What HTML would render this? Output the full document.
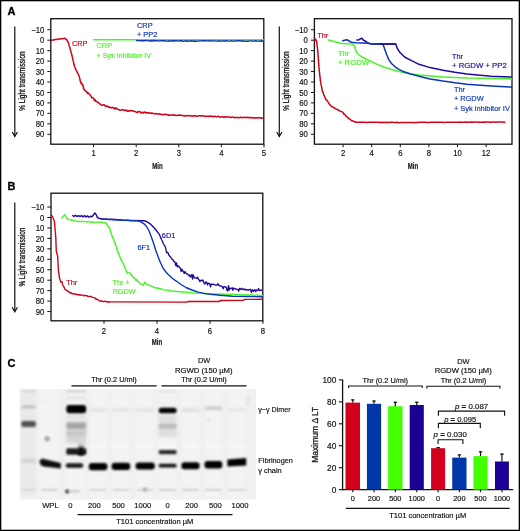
<!DOCTYPE html><html><head><meta charset="utf-8"><style>html,body{margin:0;padding:0;background:#fff;}svg{display:block;will-change:transform;}</style></head><body><svg width="520" height="531" viewBox="0 0 520 531" font-family='"Liberation Sans", sans-serif'>
<rect x="0" y="0" width="520" height="531" fill="#fff"/>
<defs><filter id="b1" x="-50%" y="-50%" width="200%" height="200%"><feGaussianBlur stdDeviation="0.8"/></filter><filter id="b2" x="-50%" y="-50%" width="200%" height="200%"><feGaussianBlur stdDeviation="1.4"/></filter><filter id="b3" x="-50%" y="-50%" width="200%" height="200%"><feGaussianBlur stdDeviation="2.5"/></filter></defs>
<text x="7.4" y="15.3" font-size="11" fill="#000" stroke="#000" stroke-width="0.3" font-weight="bold">A</text>
<text x="7.6" y="189.5" font-size="11" fill="#000" stroke="#000" stroke-width="0.3" font-weight="bold">B</text>
<text x="7.4" y="366.5" font-size="11" fill="#000" stroke="#000" stroke-width="0.3" font-weight="bold">C</text>
<rect x="50.8" y="18.7" width="213.0" height="125.49999999999999" fill="none" stroke="#111" stroke-width="1.3"/>
<line x1="47.3" y1="29.75" x2="50.8" y2="29.75" stroke="#111" stroke-width="1"/>
<text transform="translate(44.3,32.85) scale(0.9,1)" x="0" y="0" font-size="8.6" fill="#111" stroke="#111" stroke-width="0.17" text-anchor="end">&#8722;10</text>
<line x1="47.3" y1="40.2" x2="50.8" y2="40.2" stroke="#111" stroke-width="1"/>
<text transform="translate(44.3,43.3) scale(0.9,1)" x="0" y="0" font-size="8.6" fill="#111" stroke="#111" stroke-width="0.17" text-anchor="end">0</text>
<line x1="47.3" y1="50.65" x2="50.8" y2="50.65" stroke="#111" stroke-width="1"/>
<text transform="translate(44.3,53.75) scale(0.9,1)" x="0" y="0" font-size="8.6" fill="#111" stroke="#111" stroke-width="0.17" text-anchor="end">10</text>
<line x1="47.3" y1="61.1" x2="50.8" y2="61.1" stroke="#111" stroke-width="1"/>
<text transform="translate(44.3,64.2) scale(0.9,1)" x="0" y="0" font-size="8.6" fill="#111" stroke="#111" stroke-width="0.17" text-anchor="end">20</text>
<line x1="47.3" y1="71.55" x2="50.8" y2="71.55" stroke="#111" stroke-width="1"/>
<text transform="translate(44.3,74.65) scale(0.9,1)" x="0" y="0" font-size="8.6" fill="#111" stroke="#111" stroke-width="0.17" text-anchor="end">30</text>
<line x1="47.3" y1="82.0" x2="50.8" y2="82.0" stroke="#111" stroke-width="1"/>
<text transform="translate(44.3,85.1) scale(0.9,1)" x="0" y="0" font-size="8.6" fill="#111" stroke="#111" stroke-width="0.17" text-anchor="end">40</text>
<line x1="47.3" y1="92.45" x2="50.8" y2="92.45" stroke="#111" stroke-width="1"/>
<text transform="translate(44.3,95.55) scale(0.9,1)" x="0" y="0" font-size="8.6" fill="#111" stroke="#111" stroke-width="0.17" text-anchor="end">50</text>
<line x1="47.3" y1="102.9" x2="50.8" y2="102.9" stroke="#111" stroke-width="1"/>
<text transform="translate(44.3,106.0) scale(0.9,1)" x="0" y="0" font-size="8.6" fill="#111" stroke="#111" stroke-width="0.17" text-anchor="end">60</text>
<line x1="47.3" y1="113.35" x2="50.8" y2="113.35" stroke="#111" stroke-width="1"/>
<text transform="translate(44.3,116.45) scale(0.9,1)" x="0" y="0" font-size="8.6" fill="#111" stroke="#111" stroke-width="0.17" text-anchor="end">70</text>
<line x1="47.3" y1="123.8" x2="50.8" y2="123.8" stroke="#111" stroke-width="1"/>
<text transform="translate(44.3,126.9) scale(0.9,1)" x="0" y="0" font-size="8.6" fill="#111" stroke="#111" stroke-width="0.17" text-anchor="end">80</text>
<line x1="47.3" y1="134.25" x2="50.8" y2="134.25" stroke="#111" stroke-width="1"/>
<text transform="translate(44.3,137.35) scale(0.9,1)" x="0" y="0" font-size="8.6" fill="#111" stroke="#111" stroke-width="0.17" text-anchor="end">90</text>
<line x1="93.6" y1="144.2" x2="93.6" y2="147.2" stroke="#111" stroke-width="1"/>
<text transform="translate(93.6,156.4) scale(0.9,1)" x="0" y="0" font-size="8.6" fill="#111" stroke="#111" stroke-width="0.17" text-anchor="middle">1</text>
<line x1="136.2" y1="144.2" x2="136.2" y2="147.2" stroke="#111" stroke-width="1"/>
<text transform="translate(136.2,156.4) scale(0.9,1)" x="0" y="0" font-size="8.6" fill="#111" stroke="#111" stroke-width="0.17" text-anchor="middle">2</text>
<line x1="178.8" y1="144.2" x2="178.8" y2="147.2" stroke="#111" stroke-width="1"/>
<text transform="translate(178.8,156.4) scale(0.9,1)" x="0" y="0" font-size="8.6" fill="#111" stroke="#111" stroke-width="0.17" text-anchor="middle">3</text>
<line x1="221.4" y1="144.2" x2="221.4" y2="147.2" stroke="#111" stroke-width="1"/>
<text transform="translate(221.4,156.4) scale(0.9,1)" x="0" y="0" font-size="8.6" fill="#111" stroke="#111" stroke-width="0.17" text-anchor="middle">4</text>
<line x1="264.0" y1="144.2" x2="264.0" y2="147.2" stroke="#111" stroke-width="1"/>
<text transform="translate(264.0,156.4) scale(0.9,1)" x="0" y="0" font-size="8.6" fill="#111" stroke="#111" stroke-width="0.17" text-anchor="middle">5</text>
<text x="157.5" y="168.8" font-size="9" fill="#111" stroke="#111" stroke-width="0.17" text-anchor="middle" font-weight="bold" textLength="10.4" lengthAdjust="spacingAndGlyphs">Min</text>
<line x1="14.8" y1="26.5" x2="14.8" y2="136.0" stroke="#111" stroke-width="1.2"/>
<path d="M12.200000000000001,132.0 L14.8,136.5 L17.400000000000002,132.0" fill="none" stroke="#111" stroke-width="1.2"/>
<text transform="translate(25.3,81.05) rotate(-90)" x="0" y="0" font-size="8.8" fill="#111" stroke="#111" stroke-width="0.3" text-anchor="middle" textLength="59.300000000000004" lengthAdjust="spacingAndGlyphs">% Light transmission</text>
<polyline points="93.70,39.80 263.30,39.80" fill="none" stroke="#4af526" stroke-width="1.5" stroke-linejoin="round" stroke-linecap="round"/>
<polyline points="136.70,40.47 138.25,40.58 139.81,40.64 141.36,40.77 142.91,40.68 144.47,40.82 146.02,40.32 147.57,40.61 149.13,40.93 150.68,40.79 152.23,40.97 153.79,40.53 155.34,40.78 156.89,40.68 158.45,40.89 160.00,40.94 161.52,40.61 163.04,40.73 164.56,40.77 166.08,41.16 167.60,41.07 169.11,40.70 170.63,41.09 172.15,40.70 173.67,40.98 175.19,40.69 176.71,40.62 178.23,41.14 179.75,40.74 181.27,40.75 182.79,41.21 184.31,41.15 185.82,40.80 187.34,41.20 188.86,40.95 190.38,41.04 191.90,40.75 193.42,41.20 194.94,41.05 196.46,41.22 197.98,41.17 199.50,40.82 201.02,40.86 202.54,40.74 204.05,40.73 205.57,40.68 207.09,40.83 208.61,41.01 210.13,40.65 211.65,41.06 213.17,40.85 214.69,40.84 216.21,41.15 217.73,40.94 219.25,40.85 220.76,40.95 222.28,41.08 223.80,40.70 225.32,41.25 226.84,40.68 228.36,41.12 229.88,41.17 231.40,40.68 232.92,41.14 234.44,40.89 235.96,41.02 237.48,40.68 238.99,40.70 240.51,40.79 242.03,41.25 243.55,40.80 245.07,41.14 246.59,41.24 248.11,41.25 249.63,40.89 251.15,40.90 252.67,41.00 254.19,41.16 255.70,40.76 257.22,41.14 258.74,41.17 260.26,41.21 261.78,40.72 263.30,41.27" fill="none" stroke="#0a36b8" stroke-width="1.4" stroke-linejoin="round" stroke-linecap="round"/>
<polyline points="51.50,40.29 52.70,39.99 53.90,40.09 55.10,39.54 56.30,39.62 57.50,39.32 58.75,38.98 60.00,39.10 61.25,38.67 62.50,38.76 63.75,38.39 65.00,38.25 66.15,39.40 67.30,40.60 67.80,41.41 68.30,42.70 68.80,44.18 69.18,45.69 69.56,46.79 69.94,48.00 70.32,49.67 70.70,50.43 71.02,52.17 71.33,53.07 71.65,54.24 71.97,55.47 72.28,56.84 72.60,58.39 72.87,59.22 73.14,60.68 73.41,61.93 73.69,62.98 73.96,64.30 74.23,65.22 74.50,66.44 75.06,67.66 75.62,69.09 76.18,70.08 76.74,71.15 77.30,72.45 77.93,73.61 78.57,74.75 79.20,76.28 79.53,77.64 79.85,78.80 80.17,80.42 80.50,81.82" fill="none" stroke="#d0021b" stroke-width="1.5" stroke-linejoin="round" stroke-linecap="round"/>
<polyline points="80.50,81.36 81.10,83.46 81.70,83.05 82.30,84.90 82.90,84.84 83.15,86.05 83.40,88.20 83.65,87.89 83.90,89.53 84.60,89.93 85.30,90.63 86.00,91.39 86.70,91.61 87.46,93.39 88.22,92.96 88.98,93.95 89.74,94.37 90.50,95.53 91.17,96.42 91.84,97.89 92.51,97.72 93.19,97.97 93.86,98.87 94.53,100.72 95.20,99.90 96.00,101.34 96.80,101.49 97.60,102.49 98.40,102.51 99.20,103.62 100.00,103.85 100.80,104.64 101.75,105.34 102.70,105.13 103.65,104.73 104.60,104.90 105.55,106.61 106.50,106.18 107.44,105.95 108.38,107.39 109.31,107.04 110.25,107.52 111.19,108.00 112.12,107.28 113.06,107.63 114.00,108.70 114.94,107.75 115.88,109.00 116.81,108.17 117.75,109.35 118.69,109.61 119.62,110.24 120.56,110.31 121.50,110.01 122.44,109.63 123.38,109.67 124.31,110.38 125.25,110.47 126.19,109.88 127.12,111.32 128.06,110.80 129.00,111.22 129.90,110.57 130.80,110.72 131.70,110.47 132.60,111.12 133.50,111.11 134.40,111.48 135.30,111.50 136.20,112.32 137.10,112.51 138.00,111.46 138.90,111.90 139.80,111.63 140.70,112.52 141.60,113.11 142.50,111.97 143.40,112.96 144.30,112.31 145.20,111.95 146.10,113.24 147.00,112.66 147.90,112.48 148.80,113.00" fill="none" stroke="#d0021b" stroke-width="1.5" stroke-linejoin="round" stroke-linecap="round"/>
<polyline points="148.80,113.07 149.84,113.09 150.87,112.97 151.91,113.73 152.94,113.06 153.98,113.60 155.01,114.06 156.05,113.42 157.09,113.95 158.12,114.10 159.16,113.69 160.19,114.09 161.23,114.48 162.26,114.36 163.30,114.70 164.33,114.26 165.36,114.39 166.39,114.34 167.41,114.76 168.44,115.20 169.47,114.97 170.50,115.20 171.53,114.91 172.56,115.30 173.59,114.78 174.61,115.02 175.64,115.43 176.67,115.54 177.70,115.33 178.73,115.07 179.76,115.28 180.79,115.27 181.81,115.37 182.84,115.89 183.87,115.39 184.90,116.05 185.93,116.08 186.96,115.39 187.99,115.72 189.01,115.86 190.04,115.49 191.07,115.89 192.10,116.37 193.13,115.67 194.16,116.12 195.19,115.70 196.21,116.13 197.24,116.43 198.27,115.82 199.30,115.66 200.33,115.74 201.36,116.16 202.39,115.71 203.41,115.78 204.44,116.17 205.47,116.56 206.50,116.13 207.54,116.15 208.57,116.41 209.61,115.96 210.64,116.44 211.68,116.12 212.71,116.56 213.75,116.91 214.79,116.14 215.82,116.64 216.86,116.72 217.89,116.36 218.93,116.51 219.96,117.20 221.00,117.25 222.03,116.50 223.06,117.07 224.09,117.33 225.11,116.73 226.14,117.11 227.17,116.65 228.20,116.98 229.23,117.30 230.26,117.27 231.29,117.48 232.31,116.90 233.34,117.18 234.37,117.68 235.40,117.48 236.43,117.38 237.46,117.35 238.49,117.90 239.51,117.55 240.54,117.07 241.57,117.80 242.60,117.40 243.63,117.51 244.66,117.33 245.69,117.56 246.71,117.48 247.74,117.29 248.77,117.80 249.80,117.34 250.84,117.98 251.88,117.32 252.92,118.02 253.95,118.07 254.99,117.81 256.03,118.03 257.07,117.63 258.11,118.10 259.15,117.84 260.18,117.69 261.22,118.37 262.26,117.89 263.30,117.89" fill="none" stroke="#d0021b" stroke-width="1.5" stroke-linejoin="round" stroke-linecap="round"/>
<text x="71.9" y="46.2" font-size="7.4" fill="#d0021b" stroke="#d0021b" stroke-width="0.17">CRP</text>
<text x="96.5" y="48.1" font-size="7.4" fill="#4af526" stroke="#4af526" stroke-width="0.17">CRP</text>
<text x="96.5" y="57.6" font-size="7.4" fill="#4af526" stroke="#4af526" stroke-width="0.17" textLength="54.5" lengthAdjust="spacingAndGlyphs">+ Syk inhibitor IV</text>
<text x="137" y="27.7" font-size="7.4" fill="#0a36b8" stroke="#0a36b8" stroke-width="0.17">CRP</text>
<text x="137" y="37" font-size="7.4" fill="#0a36b8" stroke="#0a36b8" stroke-width="0.17">+ PP2</text>
<rect x="314.4" y="18.7" width="197.60000000000002" height="125.49999999999999" fill="none" stroke="#111" stroke-width="1.3"/>
<line x1="310.90000000000003" y1="29.75" x2="314.4" y2="29.75" stroke="#111" stroke-width="1"/>
<text transform="translate(307.90000000000003,32.85) scale(0.9,1)" x="0" y="0" font-size="8.6" fill="#111" stroke="#111" stroke-width="0.17" text-anchor="end">&#8722;10</text>
<line x1="310.90000000000003" y1="40.2" x2="314.4" y2="40.2" stroke="#111" stroke-width="1"/>
<text transform="translate(307.90000000000003,43.3) scale(0.9,1)" x="0" y="0" font-size="8.6" fill="#111" stroke="#111" stroke-width="0.17" text-anchor="end">0</text>
<line x1="310.90000000000003" y1="50.65" x2="314.4" y2="50.65" stroke="#111" stroke-width="1"/>
<text transform="translate(307.90000000000003,53.75) scale(0.9,1)" x="0" y="0" font-size="8.6" fill="#111" stroke="#111" stroke-width="0.17" text-anchor="end">10</text>
<line x1="310.90000000000003" y1="61.1" x2="314.4" y2="61.1" stroke="#111" stroke-width="1"/>
<text transform="translate(307.90000000000003,64.2) scale(0.9,1)" x="0" y="0" font-size="8.6" fill="#111" stroke="#111" stroke-width="0.17" text-anchor="end">20</text>
<line x1="310.90000000000003" y1="71.55" x2="314.4" y2="71.55" stroke="#111" stroke-width="1"/>
<text transform="translate(307.90000000000003,74.65) scale(0.9,1)" x="0" y="0" font-size="8.6" fill="#111" stroke="#111" stroke-width="0.17" text-anchor="end">30</text>
<line x1="310.90000000000003" y1="82.0" x2="314.4" y2="82.0" stroke="#111" stroke-width="1"/>
<text transform="translate(307.90000000000003,85.1) scale(0.9,1)" x="0" y="0" font-size="8.6" fill="#111" stroke="#111" stroke-width="0.17" text-anchor="end">40</text>
<line x1="310.90000000000003" y1="92.45" x2="314.4" y2="92.45" stroke="#111" stroke-width="1"/>
<text transform="translate(307.90000000000003,95.55) scale(0.9,1)" x="0" y="0" font-size="8.6" fill="#111" stroke="#111" stroke-width="0.17" text-anchor="end">50</text>
<line x1="310.90000000000003" y1="102.9" x2="314.4" y2="102.9" stroke="#111" stroke-width="1"/>
<text transform="translate(307.90000000000003,106.0) scale(0.9,1)" x="0" y="0" font-size="8.6" fill="#111" stroke="#111" stroke-width="0.17" text-anchor="end">60</text>
<line x1="310.90000000000003" y1="113.35" x2="314.4" y2="113.35" stroke="#111" stroke-width="1"/>
<text transform="translate(307.90000000000003,116.45) scale(0.9,1)" x="0" y="0" font-size="8.6" fill="#111" stroke="#111" stroke-width="0.17" text-anchor="end">70</text>
<line x1="310.90000000000003" y1="123.8" x2="314.4" y2="123.8" stroke="#111" stroke-width="1"/>
<text transform="translate(307.90000000000003,126.9) scale(0.9,1)" x="0" y="0" font-size="8.6" fill="#111" stroke="#111" stroke-width="0.17" text-anchor="end">80</text>
<line x1="310.90000000000003" y1="134.25" x2="314.4" y2="134.25" stroke="#111" stroke-width="1"/>
<text transform="translate(307.90000000000003,137.35) scale(0.9,1)" x="0" y="0" font-size="8.6" fill="#111" stroke="#111" stroke-width="0.17" text-anchor="end">90</text>
<line x1="343.1" y1="144.2" x2="343.1" y2="147.2" stroke="#111" stroke-width="1"/>
<text transform="translate(343.1,156.4) scale(0.9,1)" x="0" y="0" font-size="8.6" fill="#111" stroke="#111" stroke-width="0.17" text-anchor="middle">2</text>
<line x1="371.7" y1="144.2" x2="371.7" y2="147.2" stroke="#111" stroke-width="1"/>
<text transform="translate(371.7,156.4) scale(0.9,1)" x="0" y="0" font-size="8.6" fill="#111" stroke="#111" stroke-width="0.17" text-anchor="middle">4</text>
<line x1="400.3" y1="144.2" x2="400.3" y2="147.2" stroke="#111" stroke-width="1"/>
<text transform="translate(400.3,156.4) scale(0.9,1)" x="0" y="0" font-size="8.6" fill="#111" stroke="#111" stroke-width="0.17" text-anchor="middle">6</text>
<line x1="428.9" y1="144.2" x2="428.9" y2="147.2" stroke="#111" stroke-width="1"/>
<text transform="translate(428.9,156.4) scale(0.9,1)" x="0" y="0" font-size="8.6" fill="#111" stroke="#111" stroke-width="0.17" text-anchor="middle">8</text>
<line x1="457.5" y1="144.2" x2="457.5" y2="147.2" stroke="#111" stroke-width="1"/>
<text transform="translate(457.5,156.4) scale(0.9,1)" x="0" y="0" font-size="8.6" fill="#111" stroke="#111" stroke-width="0.17" text-anchor="middle">10</text>
<line x1="486.1" y1="144.2" x2="486.1" y2="147.2" stroke="#111" stroke-width="1"/>
<text transform="translate(486.1,156.4) scale(0.9,1)" x="0" y="0" font-size="8.6" fill="#111" stroke="#111" stroke-width="0.17" text-anchor="middle">12</text>
<text x="413" y="168.8" font-size="9" fill="#111" stroke="#111" stroke-width="0.17" text-anchor="middle" font-weight="bold" textLength="10.4" lengthAdjust="spacingAndGlyphs">Min</text>
<line x1="279.3" y1="26.5" x2="279.3" y2="136.0" stroke="#111" stroke-width="1.2"/>
<path d="M276.7,132.0 L279.3,136.5 L281.90000000000003,132.0" fill="none" stroke="#111" stroke-width="1.2"/>
<text transform="translate(289.40000000000003,81.05) rotate(-90)" x="0" y="0" font-size="8.8" fill="#111" stroke="#111" stroke-width="0.3" text-anchor="middle" textLength="59.300000000000004" lengthAdjust="spacingAndGlyphs">% Light transmission</text>
<polyline points="314.60,40.46 314.90,39.55 315.20,38.88 315.67,39.40 316.13,40.37 316.60,41.38 316.72,42.04 316.84,43.37 316.95,44.50 317.07,45.67 317.19,46.07 317.31,47.29 317.43,48.12 317.55,49.80 317.66,50.72 317.78,51.16 317.90,53.03 317.97,54.02 318.05,54.75 318.12,55.72 318.19,56.32 318.27,57.20 318.34,58.67 318.41,59.25 318.49,60.37 318.56,61.43 318.63,62.24 318.71,63.64 318.78,64.63 318.85,65.99 318.93,66.71 319.00,67.83 319.11,68.71 319.22,69.86 319.32,70.68 319.43,71.53 319.54,73.19 319.65,74.19 319.75,75.06 319.86,75.95 319.97,76.60 320.08,77.53 320.18,78.59 320.29,79.41 320.40,81.04 320.60,81.77 320.80,83.22 321.00,83.86 321.20,85.43 321.40,86.39 321.60,86.68 321.80,87.93 322.00,89.61 322.20,90.27 322.55,91.67 322.90,92.08 323.25,92.73 323.60,94.17 323.95,95.24 324.30,95.72 324.65,96.49 325.00,97.65 325.63,99.15 326.27,99.90 326.90,100.26 327.53,101.31 328.17,102.11 328.80,103.00 329.53,104.53 330.27,104.84 331.00,106.05 331.88,106.50 332.75,106.82 333.62,107.86 334.50,107.87 335.75,108.98 337.00,109.15 338.03,110.06 339.07,110.51 340.10,111.19 342.00,111.62 342.63,112.34 343.27,112.76 343.90,114.15 344.66,114.30 345.42,115.22 346.18,116.40 346.94,116.97 347.70,117.24 348.62,118.74 349.55,118.74 350.47,119.48 351.40,120.65 352.35,120.72 353.30,121.17 354.25,121.44 355.20,121.93" fill="none" stroke="#d0021b" stroke-width="1.5" stroke-linejoin="round" stroke-linecap="round"/>
<polyline points="355.20,122.29 356.84,122.35 358.49,122.35 360.13,122.19 361.78,122.15 363.42,122.26 365.07,122.23 366.71,122.39 368.36,122.36 370.00,122.33 371.50,122.33 373.00,122.37 374.50,122.22 376.00,122.32 377.50,122.25 379.00,122.48 380.50,122.24 382.00,122.48 383.50,122.26 385.00,122.46 386.50,122.36 388.00,122.39 389.50,122.53 391.00,122.30 392.50,122.32 394.00,122.58 395.50,122.47 397.00,122.36 398.50,122.64 400.00,122.63 401.50,122.39 403.00,122.49 404.50,122.42 406.00,122.48 407.50,122.58 409.00,122.45 410.50,122.62 412.00,122.43 413.50,122.48 415.00,122.68 416.50,122.56 418.00,122.58 420.00,122.33 421.54,122.29 423.08,122.27 424.62,122.16 426.15,122.37 427.69,122.44 429.23,122.44 430.77,122.35 432.31,122.26 433.85,122.26 435.38,122.36 436.92,122.35 438.46,122.18 440.00,122.22 441.50,122.25 443.00,122.29 444.50,122.38 446.00,122.28 447.50,122.13 449.00,122.37 450.50,122.24 452.00,122.27 453.50,122.17 455.00,122.23 456.50,122.21 458.00,122.32 459.50,122.12 461.00,122.24 462.50,122.13 464.00,122.28 465.50,122.08 467.00,122.14 468.50,122.16 470.00,122.24 471.52,122.06 473.03,122.18 474.55,122.10 476.07,122.12 477.59,122.17 479.10,122.31 480.62,122.16 482.14,122.30 483.66,122.06 485.17,122.28 486.69,122.11 488.21,122.05 489.73,122.22 491.24,122.26 492.76,121.99 494.28,122.06 495.80,122.21 497.31,122.07 498.83,122.04 500.35,121.97 501.87,121.97 503.38,122.14 504.90,122.25" fill="none" stroke="#d0021b" stroke-width="1.5" stroke-linejoin="round" stroke-linecap="round"/>
<polyline points="328.30,40.00 335.00,41.75 341.25,43.50 352.50,43.90 354.40,45.75 356.25,52.00 358.50,54.50 362.00,57.00 365.80,58.90 371.00,61.50 377.30,64.40 384.00,67.00 390.80,69.20 400.00,71.80 410.00,74.00 419.00,75.10 443.00,77.00 467.00,78.00 511.60,78.70" fill="none" stroke="#4af526" stroke-width="1.5" stroke-linejoin="round" stroke-linecap="round"/>
<polyline points="356.90,40.10 359.00,39.80 360.50,38.70 361.90,38.25 363.00,39.80 365.00,41.00 367.50,42.60 371.25,43.90 395.60,43.90 396.60,46.50 397.40,48.70 400.00,52.50 402.30,54.80 404.60,57.00 410.00,59.80 419.00,64.30 430.00,67.60 443.00,70.30 455.00,72.30 467.00,73.90 491.00,76.30 511.60,77.00" fill="none" stroke="#24089c" stroke-width="1.5" stroke-linejoin="round" stroke-linecap="round"/>
<polyline points="342.75,40.75 344.50,40.30 346.90,39.75 348.75,40.75 351.25,42.25 356.00,42.80 367.50,43.20 371.25,43.90 382.60,43.90 383.60,46.00 385.00,50.00 386.80,55.00 388.80,59.60 391.50,63.50 394.60,66.30 398.00,68.90 402.30,71.20 410.00,73.80 419.00,76.30 430.00,78.90 443.00,81.10 455.00,82.80 467.00,84.20 491.00,85.90 511.60,87.10" fill="none" stroke="#0a36b8" stroke-width="1.5" stroke-linejoin="round" stroke-linecap="round"/>
<polyline points="379.40,43.90 395.60,43.90" fill="none" stroke="#24089c" stroke-width="1.5" stroke-linejoin="round" stroke-linecap="round"/>
<text x="317.2" y="37.6" font-size="7.4" fill="#d0021b" stroke="#d0021b" stroke-width="0.17">Thr</text>
<text x="337.9" y="56" font-size="7.4" fill="#4af526" stroke="#4af526" stroke-width="0.17">Thr</text>
<text x="337.9" y="65.4" font-size="7.4" fill="#4af526" stroke="#4af526" stroke-width="0.17" textLength="31.4" lengthAdjust="spacingAndGlyphs">+ RGDW</text>
<text x="452" y="58.6" font-size="7.4" fill="#24089c" stroke="#24089c" stroke-width="0.17">Thr</text>
<text x="452" y="67.9" font-size="7.4" fill="#24089c" stroke="#24089c" stroke-width="0.17" textLength="54.8" lengthAdjust="spacingAndGlyphs">+ RGDW + PP2</text>
<text x="453.9" y="91.9" font-size="7.4" fill="#0a36b8" stroke="#0a36b8" stroke-width="0.17">Thr</text>
<text x="453.9" y="101.0" font-size="7.4" fill="#0a36b8" stroke="#0a36b8" stroke-width="0.17">+ RGDW</text>
<text x="453.9" y="110.7" font-size="7.4" fill="#0a36b8" stroke="#0a36b8" stroke-width="0.17" textLength="56" lengthAdjust="spacingAndGlyphs">+ Syk inhibitor IV</text>
<rect x="51" y="193.2" width="211.8" height="127.60000000000002" fill="none" stroke="#111" stroke-width="1.3"/>
<line x1="47.3" y1="207.05" x2="51" y2="207.05" stroke="#111" stroke-width="1"/>
<text transform="translate(44.3,210.15) scale(0.9,1)" x="0" y="0" font-size="8.6" fill="#111" stroke="#111" stroke-width="0.17" text-anchor="end">&#8722;10</text>
<line x1="47.3" y1="217.5" x2="51" y2="217.5" stroke="#111" stroke-width="1"/>
<text transform="translate(44.3,220.6) scale(0.9,1)" x="0" y="0" font-size="8.6" fill="#111" stroke="#111" stroke-width="0.17" text-anchor="end">0</text>
<line x1="47.3" y1="227.95" x2="51" y2="227.95" stroke="#111" stroke-width="1"/>
<text transform="translate(44.3,231.05) scale(0.9,1)" x="0" y="0" font-size="8.6" fill="#111" stroke="#111" stroke-width="0.17" text-anchor="end">10</text>
<line x1="47.3" y1="238.4" x2="51" y2="238.4" stroke="#111" stroke-width="1"/>
<text transform="translate(44.3,241.5) scale(0.9,1)" x="0" y="0" font-size="8.6" fill="#111" stroke="#111" stroke-width="0.17" text-anchor="end">20</text>
<line x1="47.3" y1="248.85" x2="51" y2="248.85" stroke="#111" stroke-width="1"/>
<text transform="translate(44.3,251.95) scale(0.9,1)" x="0" y="0" font-size="8.6" fill="#111" stroke="#111" stroke-width="0.17" text-anchor="end">30</text>
<line x1="47.3" y1="259.3" x2="51" y2="259.3" stroke="#111" stroke-width="1"/>
<text transform="translate(44.3,262.4) scale(0.9,1)" x="0" y="0" font-size="8.6" fill="#111" stroke="#111" stroke-width="0.17" text-anchor="end">40</text>
<line x1="47.3" y1="269.75" x2="51" y2="269.75" stroke="#111" stroke-width="1"/>
<text transform="translate(44.3,272.85) scale(0.9,1)" x="0" y="0" font-size="8.6" fill="#111" stroke="#111" stroke-width="0.17" text-anchor="end">50</text>
<line x1="47.3" y1="280.2" x2="51" y2="280.2" stroke="#111" stroke-width="1"/>
<text transform="translate(44.3,283.3) scale(0.9,1)" x="0" y="0" font-size="8.6" fill="#111" stroke="#111" stroke-width="0.17" text-anchor="end">60</text>
<line x1="47.3" y1="290.65" x2="51" y2="290.65" stroke="#111" stroke-width="1"/>
<text transform="translate(44.3,293.75) scale(0.9,1)" x="0" y="0" font-size="8.6" fill="#111" stroke="#111" stroke-width="0.17" text-anchor="end">70</text>
<line x1="47.3" y1="301.1" x2="51" y2="301.1" stroke="#111" stroke-width="1"/>
<text transform="translate(44.3,304.2) scale(0.9,1)" x="0" y="0" font-size="8.6" fill="#111" stroke="#111" stroke-width="0.17" text-anchor="end">80</text>
<line x1="47.3" y1="311.55" x2="51" y2="311.55" stroke="#111" stroke-width="1"/>
<text transform="translate(44.3,314.65) scale(0.9,1)" x="0" y="0" font-size="8.6" fill="#111" stroke="#111" stroke-width="0.17" text-anchor="end">90</text>
<line x1="104.0" y1="320.8" x2="104.0" y2="323.8" stroke="#111" stroke-width="1"/>
<text transform="translate(104.0,333.8) scale(0.9,1)" x="0" y="0" font-size="8.6" fill="#111" stroke="#111" stroke-width="0.17" text-anchor="middle">2</text>
<line x1="157.0" y1="320.8" x2="157.0" y2="323.8" stroke="#111" stroke-width="1"/>
<text transform="translate(157.0,333.8) scale(0.9,1)" x="0" y="0" font-size="8.6" fill="#111" stroke="#111" stroke-width="0.17" text-anchor="middle">4</text>
<line x1="210.0" y1="320.8" x2="210.0" y2="323.8" stroke="#111" stroke-width="1"/>
<text transform="translate(210.0,333.8) scale(0.9,1)" x="0" y="0" font-size="8.6" fill="#111" stroke="#111" stroke-width="0.17" text-anchor="middle">6</text>
<line x1="263.0" y1="320.8" x2="263.0" y2="323.8" stroke="#111" stroke-width="1"/>
<text transform="translate(263.0,333.8) scale(0.9,1)" x="0" y="0" font-size="8.6" fill="#111" stroke="#111" stroke-width="0.17" text-anchor="middle">8</text>
<text x="157" y="345.3" font-size="9" fill="#111" stroke="#111" stroke-width="0.17" text-anchor="middle" font-weight="bold" textLength="10.4" lengthAdjust="spacingAndGlyphs">Min</text>
<line x1="14.8" y1="202.5" x2="14.8" y2="311.3" stroke="#111" stroke-width="1.2"/>
<path d="M12.200000000000001,307.3 L14.8,311.8 L17.400000000000002,307.3" fill="none" stroke="#111" stroke-width="1.2"/>
<text transform="translate(25.1,257.1) rotate(-90)" x="0" y="0" font-size="8.8" fill="#111" stroke="#111" stroke-width="0.3" text-anchor="middle" textLength="59.00000000000003" lengthAdjust="spacingAndGlyphs">% Light transmission</text>
<polyline points="51.50,215.18 52.70,216.87 53.06,217.93 53.42,219.13 53.78,219.60 54.14,220.70 54.50,221.68 54.59,222.79 54.67,224.28 54.76,224.77 54.85,226.16 54.93,226.91 55.02,228.02 55.11,229.17 55.19,230.57 55.28,231.40 55.37,231.90 55.45,233.16 55.54,234.08 55.63,235.77 55.71,236.75 55.80,237.78 55.84,238.86 55.88,239.84 55.92,241.09 55.95,242.01 55.99,242.59 56.03,244.18 56.07,244.92 56.11,246.22 56.15,247.11 56.18,248.05 56.22,249.05 56.26,250.18 56.30,251.13 56.62,252.06 56.95,253.79 57.27,254.87 57.60,256.14 57.65,256.88 57.71,257.76 57.76,258.94 57.81,259.40 57.87,260.89 57.92,261.69 57.97,262.46 58.03,263.49 58.08,264.78 58.13,265.54 58.19,266.74 58.24,267.87 58.29,268.69 58.35,269.46 58.40,270.79 58.56,271.59 58.71,272.62 58.87,273.61 59.03,274.79 59.19,275.56 59.34,277.11 59.50,278.41 59.88,279.03 60.25,280.45 60.62,281.76 61.00,282.09 62.00,281.68 62.33,283.44 62.67,284.64 63.00,285.63 63.63,286.33 64.27,287.69 64.90,289.23 65.77,289.90 66.63,290.47 67.50,290.58 68.37,291.82 69.23,292.04 70.10,292.99 71.07,292.71 72.05,293.70 73.03,293.61 74.00,293.95 74.97,293.73 75.95,294.33 76.93,294.54 77.90,294.78 78.90,294.73 79.90,295.21 80.90,295.02 81.90,295.13 82.90,295.17 83.90,295.79 84.90,295.43 85.90,295.68 86.90,295.70 87.90,296.37 88.90,296.44 89.90,296.59 90.90,296.28 91.92,297.07 92.94,297.40 93.96,297.59 94.98,297.93 96.00,299.25 97.00,299.03 98.00,299.77 99.00,300.32 100.00,301.19 101.00,300.81 102.00,301.25 103.00,301.25 104.00,301.76 105.00,301.10 106.00,301.48 107.00,301.72 108.00,302.23 109.00,301.92" fill="none" stroke="#d0021b" stroke-width="1.4" stroke-linejoin="round" stroke-linecap="round"/>
<polyline points="109.00,301.90 186.50,302.10 188.50,301.50 219.00,301.50 221.00,300.50 243.00,300.40 245.00,299.40 262.30,299.30" fill="none" stroke="#d0021b" stroke-width="1.4" stroke-linejoin="round" stroke-linecap="round"/>
<polyline points="61.80,217.92 62.65,216.99 63.50,215.95 64.90,214.67 65.42,215.57 65.94,216.63 66.46,217.32 66.98,218.46 67.50,219.01 68.54,219.39 69.58,219.62 70.62,219.72 71.66,220.29 72.70,220.24 73.74,220.73 74.78,221.04 75.82,220.83 76.86,221.43 77.90,221.58 78.91,221.55 79.91,221.21 80.92,221.52 81.92,221.66 82.93,221.51 83.94,221.52 84.94,221.62 85.95,221.63 86.95,222.00 87.96,221.78 88.96,221.87 89.97,222.05 90.98,222.28 91.98,221.93 92.99,221.83 93.99,222.44 95.00,222.40 96.02,222.41 97.04,222.29 98.06,222.16 99.08,222.15 100.10,222.28 101.12,222.42 102.14,222.22 103.16,222.64 104.18,222.70 105.20,222.31 106.10,223.51 107.00,223.99" fill="none" stroke="#4af526" stroke-width="1.4" stroke-linejoin="round" stroke-linecap="round"/>
<polyline points="107.00,224.04 107.53,225.25 108.07,226.23 108.60,225.72 108.88,227.35 109.17,228.02 109.45,228.72 109.73,228.50 110.02,229.12 110.30,230.54 110.58,231.97 110.87,231.85 111.15,233.08 111.43,233.52 111.72,235.25 112.00,236.20 112.30,236.00 112.60,237.84 112.90,236.93 113.20,239.05 113.50,239.94 113.80,239.41 114.10,241.18 114.40,241.69 114.70,243.17 115.00,242.61 115.30,243.97 115.56,245.37 115.82,245.70 116.08,245.89 116.35,246.26 116.61,248.58 116.87,248.51 117.13,250.23 117.39,249.47 117.65,251.45 117.92,252.23 118.18,253.20 118.44,252.36 118.70,253.77 119.06,253.98 119.42,256.02 119.78,256.09 120.13,257.96 120.49,257.69 120.85,259.19 121.21,260.15 121.57,259.80 121.92,261.15 122.28,262.66 122.64,262.67 123.00,263.15 123.35,263.76 123.70,265.47 124.05,265.17 124.40,266.69 124.75,267.37 125.10,268.15 125.45,268.16 125.80,269.89 126.15,271.12 126.50,270.82 126.85,271.62 127.20,273.44 128.13,273.11 129.07,272.82 130.00,272.62 130.60,274.66 131.20,274.63 131.80,275.54 132.40,275.89 133.00,277.24 133.64,277.95 134.28,277.74 134.92,277.86 135.56,280.04 136.20,280.44 136.86,279.40 137.52,280.94 138.18,281.71 138.84,281.77 139.50,282.92 140.22,283.95 140.95,283.91 141.68,284.18 142.40,284.45 143.30,285.05" fill="none" stroke="#4af526" stroke-width="1.4" stroke-linejoin="round" stroke-linecap="round"/>
<polyline points="143.30,285.28 143.75,284.36 144.20,282.88 144.90,282.09 145.70,283.24 146.50,284.20 147.55,284.59 148.60,284.97 149.68,285.28 150.76,285.71 151.84,286.45 152.92,286.64 154.00,287.32 155.00,287.66 156.00,287.97 157.00,288.28 158.00,288.04 159.00,288.30 160.00,288.91 161.00,289.05 162.00,289.01 163.00,289.55 164.00,289.90 165.00,290.09 166.00,289.87 167.00,290.14 168.00,290.15 169.07,290.96 170.15,290.55 171.22,291.03 172.30,291.03 173.38,291.19 174.45,291.27 175.53,291.60 176.60,291.57 177.63,291.45 178.66,291.41 179.69,291.76 180.72,292.17 181.75,291.71 182.78,292.18 183.82,292.24 184.85,292.00 185.88,292.13 186.91,292.55 187.94,292.47 188.97,292.54 190.00,292.69 191.04,292.48 192.07,292.96 193.11,292.94 194.14,292.96 195.18,292.88 196.21,293.27 197.25,293.34 198.28,293.20 199.32,292.94 200.35,293.04 201.39,293.10 202.42,293.11 203.46,293.57 204.49,293.55 205.53,293.38 206.56,293.93 207.60,293.79 208.62,293.94 209.64,293.99 210.65,293.92 211.67,293.85 212.69,294.20 213.71,293.63 214.73,294.06 215.75,294.22 216.76,293.97 217.78,294.24 218.80,293.83 219.82,294.02 220.84,293.95 221.85,294.07 222.87,294.32 223.89,293.96 224.91,294.13 225.93,294.51 226.95,294.17 227.96,294.07 228.98,294.71 230.00,294.43 231.01,294.09 232.02,294.50 233.03,294.23 234.04,294.26 235.05,294.69 236.06,294.66 237.07,294.52 238.07,294.61 239.08,294.67 240.09,294.62 241.10,294.40 242.11,294.89 243.12,294.91 244.13,294.70 245.14,294.71 246.15,294.88 247.16,294.81 248.17,294.79 249.18,295.14 250.19,295.18 251.20,294.68 252.21,294.72 253.22,295.17 254.23,295.32 255.23,295.19 256.24,294.91 257.25,294.77 258.26,295.33 259.27,295.43 260.28,295.33 261.29,295.34 262.30,295.53" fill="none" stroke="#4af526" stroke-width="1.4" stroke-linejoin="round" stroke-linecap="round"/>
<polyline points="72.70,215.71 74.00,216.47 75.50,215.21 76.25,215.91 77.00,216.54 78.50,215.70 79.25,215.97 80.00,216.59 81.50,215.46 82.25,216.16 83.00,216.90 84.50,215.56 85.25,216.16 86.00,217.00 87.50,215.89 89.00,217.24 90.50,216.22 92.00,216.74 92.75,215.82 93.50,215.03 94.15,213.83 94.80,212.94 95.40,213.83 96.00,214.45 96.50,215.26 97.00,216.64 97.50,217.65 99.00,218.24 100.10,218.64 101.20,218.68 102.26,219.11 103.32,219.12 104.38,219.16 105.45,219.32 106.51,218.95 107.57,219.20 108.63,219.37 109.69,219.47 110.75,219.29 111.82,219.20 112.88,219.55 113.94,219.30 115.00,219.72 116.00,219.36 117.00,219.69 118.00,219.77 119.00,219.61 120.00,219.89 121.00,219.96 122.00,219.94 123.00,220.32 124.00,220.36 125.00,220.43 126.00,220.11 127.00,220.04 128.00,220.31 129.00,220.21 130.00,220.62" fill="none" stroke="#24089c" stroke-width="1.4" stroke-linejoin="round" stroke-linecap="round"/>
<polyline points="130.00,220.50 144.00,220.70 147.50,222.00 150.20,223.80 154.80,228.50 159.50,234.70 161.50,239.50" fill="none" stroke="#24089c" stroke-width="1.4" stroke-linejoin="round" stroke-linecap="round"/>
<polyline points="161.50,240.13 162.40,240.95 163.30,243.46 164.20,245.08 164.97,246.13 165.73,248.20 166.50,252.55 167.27,252.29 168.03,252.81 168.80,255.02 169.60,256.09 170.40,256.76 171.20,257.79 172.00,259.22 172.75,259.32 173.50,261.11 174.25,261.63 175.00,262.15 175.75,265.67 176.50,262.86 177.25,266.87 178.00,265.76 178.80,266.43 179.60,267.84 180.40,267.84 181.20,271.57 181.96,269.21 182.72,270.85 183.48,271.56 184.24,273.39 185.00,271.63 185.80,273.12 186.60,273.85 187.40,274.03 188.20,274.89 189.00,275.76 189.71,274.95 190.42,276.97 191.13,276.58 191.84,274.34 192.55,279.03 193.25,274.98 193.96,276.85 194.67,277.79 195.38,277.90 196.09,278.19 196.80,278.40 197.54,277.08 198.29,279.02 199.03,279.77 199.77,281.47 200.51,280.53 201.26,280.18 202.00,280.86 202.80,279.90 203.60,281.68 204.40,283.90 205.20,283.82 206.00,281.77 206.80,282.41 207.60,284.94 208.34,283.07 209.08,283.28 209.82,284.02 210.56,286.76 211.30,284.29 212.04,284.27 212.78,284.09 213.52,284.28 214.26,284.56 215.00,284.89 215.75,285.14 216.49,285.00 217.24,284.94 217.98,283.71 218.73,285.32 219.47,285.51 220.22,286.13 220.96,286.04 221.71,286.20 222.45,286.92 223.20,288.83 223.96,286.53 224.71,286.57 225.47,287.12 226.22,287.10 226.98,290.27 227.73,290.94 228.49,285.67 229.24,290.05 230.00,288.10 230.72,288.53 231.45,288.29 232.18,287.74 232.90,290.20 233.62,288.16 234.35,288.55 235.07,288.49 235.80,288.88 236.52,289.35 237.25,289.37 237.97,289.59 238.70,291.23 239.41,288.42 240.11,289.44 240.82,289.24 241.52,288.26 242.23,289.21 242.94,289.50 243.64,289.08 244.35,289.74 245.06,289.10 245.76,289.73 246.47,289.74 247.18,289.65 247.88,290.40 248.59,290.10 249.29,289.33 250.00,289.85 250.71,289.42 251.41,292.67 252.12,290.40 252.82,289.82 253.53,291.43 254.24,290.23 254.94,289.72 255.65,291.51 256.35,290.05 257.06,290.70 257.76,290.43 258.47,288.43 259.18,290.16 259.88,290.56 260.59,290.24 261.29,289.90 262.00,290.70" fill="none" stroke="#24089c" stroke-width="1.35" stroke-linejoin="round"/>
<polyline points="101.20,219.00 130.00,220.60 137.80,220.70 141.00,221.80 144.00,223.80 146.50,226.50 148.60,230.00 151.00,236.00 153.30,242.50 155.50,249.50 158.00,256.40 160.30,262.30 162.60,267.30 165.50,271.50 168.80,275.10 172.50,278.50 176.60,281.30 181.00,284.50 185.90,287.50 192.00,290.00 198.30,292.10 204.00,293.40 210.70,294.30 220.00,295.30 232.50,296.20 262.30,296.80" fill="none" stroke="#0a36b8" stroke-width="1.4" stroke-linejoin="round" stroke-linecap="round"/>
<text x="66.2" y="284.5" font-size="7.4" fill="#d0021b" stroke="#d0021b" stroke-width="0.17">Thr</text>
<text x="112.4" y="284.5" font-size="7.4" fill="#4af526" stroke="#4af526" stroke-width="0.17">Thr +</text>
<text x="112.4" y="294.1" font-size="7.4" fill="#4af526" stroke="#4af526" stroke-width="0.17">RGDW</text>
<text x="161.8" y="237.5" font-size="7.4" fill="#24089c" stroke="#24089c" stroke-width="0.17">6D1</text>
<text x="137.5" y="250.2" font-size="7.4" fill="#0a36b8" stroke="#0a36b8" stroke-width="0.17">6F1</text>
<rect x="19.7" y="389.2" width="236.3" height="110.30000000000001" fill="#f0f0f0"/>
<clipPath id="gclip"><rect x="19.7" y="389.2" width="236.3" height="110.30000000000001"/></clipPath>
<g clip-path="url(#gclip)">
<rect x="39.7" y="389.0" width="21.0" height="110" rx="0" fill="#f3f3f3" filter="url(#b2)" opacity="1"/>
<rect x="66.4" y="389.0" width="19.299999999999997" height="110" rx="0" fill="#f3f3f3" filter="url(#b2)" opacity="1"/>
<rect x="89.3" y="389.0" width="17.60000000000001" height="110" rx="0" fill="#f3f3f3" filter="url(#b2)" opacity="1"/>
<rect x="112.1" y="389.0" width="17.599999999999994" height="110" rx="0" fill="#f3f3f3" filter="url(#b2)" opacity="1"/>
<rect x="136.1" y="389.0" width="18.200000000000017" height="110" rx="0" fill="#f3f3f3" filter="url(#b2)" opacity="1"/>
<rect x="159.2" y="389.0" width="16.900000000000006" height="110" rx="0" fill="#f3f3f3" filter="url(#b2)" opacity="1"/>
<rect x="181.9" y="389.0" width="17.5" height="110" rx="0" fill="#f3f3f3" filter="url(#b2)" opacity="1"/>
<rect x="205.0" y="389.0" width="16.80000000000001" height="110" rx="0" fill="#f3f3f3" filter="url(#b2)" opacity="1"/>
<rect x="227.9" y="389.0" width="17.799999999999983" height="110" rx="0" fill="#f3f3f3" filter="url(#b2)" opacity="1"/>
<rect x="21.5" y="385.0" width="14.299999999999997" height="110" rx="0" fill="#eaeaea" filter="url(#b2)" opacity="1"/>
<rect x="89.8" y="444.25" width="16.60000000000001" height="2.5" rx="1.25" fill="#fafafa" filter="url(#b1)" opacity="1"/>
<rect x="112.6" y="444.25" width="16.599999999999994" height="2.5" rx="1.25" fill="#fafafa" filter="url(#b1)" opacity="1"/>
<rect x="136.6" y="444.25" width="17.200000000000017" height="2.5" rx="1.25" fill="#fafafa" filter="url(#b1)" opacity="1"/>
<rect x="159.7" y="444.25" width="15.900000000000006" height="2.5" rx="1.25" fill="#fafafa" filter="url(#b1)" opacity="1"/>
<rect x="182.4" y="444.25" width="16.5" height="2.5" rx="1.25" fill="#fafafa" filter="url(#b1)" opacity="1"/>
<rect x="205.5" y="444.25" width="15.800000000000011" height="2.5" rx="1.25" fill="#fafafa" filter="url(#b1)" opacity="1"/>
<rect x="228.4" y="444.25" width="16.799999999999983" height="2.5" rx="1.25" fill="#fafafa" filter="url(#b1)" opacity="1"/>
<rect x="21.5" y="390.4" width="14.299999999999997" height="2.2" rx="1.1" fill="#d4d4d4" filter="url(#b1)" opacity="1"/>
<rect x="21.5" y="396.1" width="14.299999999999997" height="1.8" rx="0.9" fill="#e6e6e6" filter="url(#b1)" opacity="1"/>
<rect x="21.5" y="405.2" width="14.299999999999997" height="3.2" rx="1.5" fill="#c2c2c2" filter="url(#b1)" opacity="1"/>
<rect x="21.5" y="415.4" width="14.299999999999997" height="2" rx="1.0" fill="#e4e4e4" filter="url(#b1)" opacity="1"/>
<rect x="21.5" y="420.75" width="14.299999999999997" height="6.5" rx="1.5" fill="#7a7a7a" filter="url(#b1)" opacity="1"/>
<rect x="22" y="422.25" width="13.299999999999997" height="3.5" rx="1.5" fill="#4a4a4a" filter="url(#b1)" opacity="1"/>
<rect x="21.5" y="458.8" width="14.299999999999997" height="4" rx="1.5" fill="#d0d0d0" filter="url(#b2)" opacity="1"/>
<rect x="21.5" y="488.8" width="14.299999999999997" height="2" rx="1.0" fill="#d6d6d6" filter="url(#b1)" opacity="1"/>
<circle cx="47.1" cy="438.7" r="4" fill="#f8f8f8" filter="url(#b1)"/>
<circle cx="47.1" cy="438.7" r="2.8" fill="#a8a8a8" filter="url(#b1)"/>
<circle cx="43.2" cy="400.6" r="0.8" fill="#c8c8c8" filter="url(#b1)"/>
<path d="M39.6,461.6 Q40,458.6 42.8,458.7 L60.6,462.9 Q61.2,465.7 60.6,468.5 L44,466.6 Q40,466 39.6,461.6 Z" fill="#080808" filter="url(#b1)"/>
<rect x="41" y="488.7" width="17" height="2.2" rx="1.1" fill="#d2d2d2" filter="url(#b1)" opacity="1"/>
<rect x="66.1" y="390.2" width="20.10000000000001" height="2.2" rx="1.1" fill="#d0d0d0" filter="url(#b1)" opacity="1"/>
<rect x="66.1" y="396.0" width="20.10000000000001" height="4" rx="1.5" fill="#e6e6e6" filter="url(#b1)" opacity="1"/>
<rect x="66.5" y="421.5" width="19.5" height="22" rx="0" fill="#d6d6d6" filter="url(#b2)" opacity="1"/>
<rect x="66.5" y="415.0" width="19.5" height="5" rx="0" fill="#e2e2e2" filter="url(#b2)" opacity="1"/>
<rect x="66.5" y="422.8" width="19.5" height="6" rx="1.5" fill="#a2a2a2" filter="url(#b2)" opacity="1"/>
<rect x="66.5" y="431.0" width="19.5" height="5" rx="1.5" fill="#c6c6c6" filter="url(#b2)" opacity="1"/>
<rect x="66.3" y="405.0" width="19.900000000000006" height="8.2" rx="3" fill="#040404" filter="url(#b1)" opacity="1"/>
<rect x="66.3" y="448.35" width="19.900000000000006" height="6.5" rx="1.5" fill="#1a1a1a" filter="url(#b1)" opacity="1"/>
<ellipse cx="81" cy="447.5" rx="3.8" ry="4.5" fill="#bcbcbc" filter="url(#b1)"/>
<ellipse cx="81" cy="451.3" rx="4" ry="4.4" fill="#0c0c0c" filter="url(#b1)"/>
<rect x="65.8" y="463.2" width="17.400000000000006" height="4.6" rx="2" fill="#121212" filter="url(#b1)" opacity="1"/>
<circle cx="67.4" cy="491.4" r="1.9" fill="#000" filter="url(#b1)"/>
<rect x="67" y="490.29999999999995" width="13" height="2.2" rx="1.1" fill="#cacaca" filter="url(#b1)" opacity="1"/>
<rect x="88.8" y="463.0" width="18.60000000000001" height="7.2" rx="3" fill="#060606" filter="url(#b1)" opacity="1"/>
<rect x="88.8" y="408.25" width="18.60000000000001" height="3.5" rx="1.5" fill="#e3e3e3" filter="url(#b2)" opacity="1"/>
<rect x="89.8" y="488.7" width="16.60000000000001" height="2.2" rx="1.1" fill="#d6d6d6" filter="url(#b1)" opacity="1"/>
<rect x="111.6" y="462.7" width="18.599999999999994" height="7.2" rx="3" fill="#060606" filter="url(#b1)" opacity="1"/>
<rect x="111.6" y="408.25" width="18.599999999999994" height="3.5" rx="1.5" fill="#e3e3e3" filter="url(#b2)" opacity="1"/>
<rect x="112.6" y="488.7" width="16.599999999999994" height="2.2" rx="1.1" fill="#d6d6d6" filter="url(#b1)" opacity="1"/>
<rect x="135.6" y="462.4" width="19.200000000000017" height="7.2" rx="3" fill="#060606" filter="url(#b1)" opacity="1"/>
<rect x="135.6" y="408.25" width="19.200000000000017" height="3.5" rx="1.5" fill="#e3e3e3" filter="url(#b2)" opacity="1"/>
<rect x="136.6" y="488.7" width="17.200000000000017" height="2.2" rx="1.1" fill="#d6d6d6" filter="url(#b1)" opacity="1"/>
<circle cx="145" cy="489.5" r="2.3" fill="#b4b4b4" filter="url(#b1)"/>
<rect x="158.7" y="390.2" width="17.900000000000006" height="2.2" rx="1.1" fill="#e2e2e2" filter="url(#b1)" opacity="1"/>
<rect x="158.7" y="415.0" width="17.900000000000006" height="22" rx="0" fill="#dedede" filter="url(#b2)" opacity="1"/>
<rect x="158.7" y="423.7" width="17.900000000000006" height="5" rx="1.5" fill="#bdbdbd" filter="url(#b1)" opacity="1"/>
<rect x="158.7" y="407.75" width="17.900000000000006" height="5.5" rx="2.5" fill="#050505" filter="url(#b1)" opacity="1"/>
<rect x="158.7" y="450.0" width="17.900000000000006" height="4.2" rx="1.5" fill="#2c2c2c" filter="url(#b1)" opacity="1"/>
<rect x="158.7" y="463.8" width="17.900000000000006" height="3.8" rx="1.5" fill="#161616" filter="url(#b1)" opacity="1"/>
<rect x="159" y="488.7" width="17" height="2.2" rx="1.1" fill="#d2d2d2" filter="url(#b1)" opacity="1"/>
<rect x="181.4" y="462.3" width="18.19999999999999" height="7.0" rx="3" fill="#060606" filter="url(#b1)" opacity="1"/>
<rect x="181.4" y="408.25" width="18.5" height="3.5" rx="1.5" fill="#dedede" filter="url(#b2)" opacity="1"/>
<rect x="182" y="488.7" width="17" height="2.2" rx="1.1" fill="#d4d4d4" filter="url(#b1)" opacity="1"/>
<rect x="204.5" y="461.1" width="17.80000000000001" height="7.4" rx="3" fill="#060606" filter="url(#b1)" opacity="1"/>
<rect x="204.5" y="406.2" width="17.80000000000001" height="4" rx="1.5" fill="#d0d0d0" filter="url(#b1)" opacity="1"/>
<circle cx="208.7" cy="420" r="1.1" fill="#c4c4c4" filter="url(#b1)"/>
<rect x="205" y="488.7" width="16.5" height="2.2" rx="1.1" fill="#d4d4d4" filter="url(#b1)" opacity="1"/>
<path d="M227.4,459.6 L246.2,458.0 L246.2,465.6 L227.4,466.6 Z" fill="#060606" filter="url(#b1)"/>
<rect x="227.4" y="408.25" width="18.799999999999983" height="3.5" rx="1.5" fill="#e5e5e5" filter="url(#b2)" opacity="1"/>
<rect x="228" y="488.7" width="17.5" height="2.2" rx="1.1" fill="#d6d6d6" filter="url(#b1)" opacity="1"/>
<circle cx="248.2" cy="399.3" r="1.2" fill="#d0d0d0" filter="url(#b1)"/>
<circle cx="248.2" cy="403.6" r="1.2" fill="#d0d0d0" filter="url(#b1)"/>
</g>
<line x1="71.4" y1="385.8" x2="156.7" y2="385.8" stroke="#111" stroke-width="1.2"/>
<line x1="161.5" y1="385.8" x2="246.5" y2="385.8" stroke="#111" stroke-width="1.2"/>
<text x="114" y="382.3" font-size="7.4" fill="#111" stroke="#111" stroke-width="0.17" text-anchor="middle" textLength="45.7" lengthAdjust="spacingAndGlyphs">Thr (0.2 U/ml)</text>
<text x="204.2" y="363.2" font-size="7.4" fill="#111" stroke="#111" stroke-width="0.17" text-anchor="middle">DW</text>
<text x="203.8" y="373" font-size="7.4" fill="#111" stroke="#111" stroke-width="0.17" text-anchor="middle" textLength="57.7" lengthAdjust="spacingAndGlyphs">RGWD (150 µM)</text>
<text x="204" y="382.3" font-size="7.4" fill="#111" stroke="#111" stroke-width="0.17" text-anchor="middle" textLength="45.7" lengthAdjust="spacingAndGlyphs">Thr (0.2 U/ml)</text>
<text x="258.3" y="412.4" font-size="7.4" fill="#111" stroke="#111" stroke-width="0.17" textLength="32.4" lengthAdjust="spacingAndGlyphs">γ−γ Dimer</text>
<text x="258.3" y="463.3" font-size="7.4" fill="#111" stroke="#111" stroke-width="0.17" textLength="34.6" lengthAdjust="spacingAndGlyphs">Fibrinogen</text>
<text x="258.3" y="472.6" font-size="7.4" fill="#111" stroke="#111" stroke-width="0.17">γ chain</text>
<text x="50.4" y="507.9" font-size="7.6" fill="#111" stroke="#111" stroke-width="0.17" text-anchor="middle">WPL</text>
<text x="70.4" y="507.9" font-size="7.6" fill="#111" stroke="#111" stroke-width="0.17" text-anchor="middle">0</text>
<text x="94.3" y="507.9" font-size="7.6" fill="#111" stroke="#111" stroke-width="0.17" text-anchor="middle">200</text>
<text x="118.5" y="507.9" font-size="7.6" fill="#111" stroke="#111" stroke-width="0.17" text-anchor="middle">500</text>
<text x="142.7" y="507.9" font-size="7.6" fill="#111" stroke="#111" stroke-width="0.17" text-anchor="middle">1000</text>
<text x="167.5" y="507.9" font-size="7.6" fill="#111" stroke="#111" stroke-width="0.17" text-anchor="middle">0</text>
<text x="191.6" y="507.9" font-size="7.6" fill="#111" stroke="#111" stroke-width="0.17" text-anchor="middle">200</text>
<text x="215.3" y="507.9" font-size="7.6" fill="#111" stroke="#111" stroke-width="0.17" text-anchor="middle">500</text>
<text x="240" y="507.9" font-size="7.6" fill="#111" stroke="#111" stroke-width="0.17" text-anchor="middle">1000</text>
<line x1="77.6" y1="514.6" x2="232.5" y2="514.6" stroke="#111" stroke-width="1.2"/>
<text x="154.75" y="524.4" font-size="7.4" fill="#111" stroke="#111" stroke-width="0.17" text-anchor="middle" textLength="77" lengthAdjust="spacingAndGlyphs">T101 concentration µM</text>
<line x1="342.6" y1="379.6" x2="342.6" y2="490.20000000000005" stroke="#111" stroke-width="1.3"/>
<line x1="342.0" y1="489.6" x2="513.2" y2="489.6" stroke="#111" stroke-width="1.3"/>
<line x1="338.9" y1="489.6" x2="342.6" y2="489.6" stroke="#111" stroke-width="1.1"/>
<text x="336.3" y="492.5" font-size="8.3" fill="#111" stroke="#111" stroke-width="0.17" text-anchor="end">0</text>
<line x1="338.9" y1="467.66" x2="342.6" y2="467.66" stroke="#111" stroke-width="1.1"/>
<text x="336.3" y="470.56" font-size="8.3" fill="#111" stroke="#111" stroke-width="0.17" text-anchor="end">20</text>
<line x1="338.9" y1="445.72" x2="342.6" y2="445.72" stroke="#111" stroke-width="1.1"/>
<text x="336.3" y="448.62" font-size="8.3" fill="#111" stroke="#111" stroke-width="0.17" text-anchor="end">40</text>
<line x1="338.9" y1="423.78000000000003" x2="342.6" y2="423.78000000000003" stroke="#111" stroke-width="1.1"/>
<text x="336.3" y="426.68" font-size="8.3" fill="#111" stroke="#111" stroke-width="0.17" text-anchor="end">60</text>
<line x1="338.9" y1="401.84000000000003" x2="342.6" y2="401.84000000000003" stroke="#111" stroke-width="1.1"/>
<text x="336.3" y="404.74" font-size="8.3" fill="#111" stroke="#111" stroke-width="0.17" text-anchor="end">80</text>
<line x1="338.9" y1="379.90000000000003" x2="342.6" y2="379.90000000000003" stroke="#111" stroke-width="1.1"/>
<text x="336.3" y="382.8" font-size="8.3" fill="#111" stroke="#111" stroke-width="0.17" text-anchor="end">100</text>
<rect x="345.5" y="402.6" width="14.5" height="87.0" fill="#d2001c"/>
<line x1="352.75" y1="399.4" x2="352.75" y2="402.6" stroke="#111" stroke-width="1.2"/>
<line x1="351.05" y1="399.9" x2="354.45" y2="399.9" stroke="#111" stroke-width="1.2"/>
<line x1="352.75" y1="489.6" x2="352.75" y2="492.20000000000005" stroke="#111" stroke-width="1.1"/>
<text x="352.75" y="501.1" font-size="7.4" fill="#111" stroke="#111" stroke-width="0.17" text-anchor="middle">0</text>
<rect x="366.9" y="403.8" width="14.200000000000045" height="85.80000000000001" fill="#0036a8"/>
<line x1="374.0" y1="400.6" x2="374.0" y2="403.8" stroke="#111" stroke-width="1.2"/>
<line x1="372.3" y1="401.1" x2="375.7" y2="401.1" stroke="#111" stroke-width="1.2"/>
<line x1="374.0" y1="489.6" x2="374.0" y2="492.20000000000005" stroke="#111" stroke-width="1.1"/>
<text x="374.0" y="501.1" font-size="7.4" fill="#111" stroke="#111" stroke-width="0.17" text-anchor="middle">200</text>
<rect x="388.1" y="406.2" width="14.399999999999977" height="83.40000000000003" fill="#44ff00"/>
<line x1="395.3" y1="401.8" x2="395.3" y2="406.2" stroke="#111" stroke-width="1.2"/>
<line x1="393.6" y1="402.3" x2="397.0" y2="402.3" stroke="#111" stroke-width="1.2"/>
<line x1="395.3" y1="489.6" x2="395.3" y2="492.20000000000005" stroke="#111" stroke-width="1.1"/>
<text x="395.3" y="501.1" font-size="7.4" fill="#111" stroke="#111" stroke-width="0.17" text-anchor="middle">500</text>
<rect x="409.7" y="405.0" width="14.100000000000023" height="84.60000000000002" fill="#1c0094"/>
<line x1="416.75" y1="401.8" x2="416.75" y2="405.0" stroke="#111" stroke-width="1.2"/>
<line x1="415.05" y1="402.3" x2="418.45" y2="402.3" stroke="#111" stroke-width="1.2"/>
<line x1="416.75" y1="489.6" x2="416.75" y2="492.20000000000005" stroke="#111" stroke-width="1.1"/>
<text x="416.75" y="501.1" font-size="7.4" fill="#111" stroke="#111" stroke-width="0.17" text-anchor="middle">1000</text>
<rect x="431.1" y="448.2" width="14.0" height="41.400000000000034" fill="#d2001c"/>
<line x1="438.1" y1="447.1" x2="438.1" y2="448.2" stroke="#111" stroke-width="1.2"/>
<line x1="436.40000000000003" y1="447.6" x2="439.8" y2="447.6" stroke="#111" stroke-width="1.2"/>
<line x1="438.1" y1="489.6" x2="438.1" y2="492.20000000000005" stroke="#111" stroke-width="1.1"/>
<text x="438.1" y="501.1" font-size="7.4" fill="#111" stroke="#111" stroke-width="0.17" text-anchor="middle">0</text>
<rect x="452.2" y="457.6" width="14.300000000000011" height="32.0" fill="#0036a8"/>
<line x1="459.35" y1="454.4" x2="459.35" y2="457.6" stroke="#111" stroke-width="1.2"/>
<line x1="457.65000000000003" y1="454.9" x2="461.05" y2="454.9" stroke="#111" stroke-width="1.2"/>
<line x1="459.35" y1="489.6" x2="459.35" y2="492.20000000000005" stroke="#111" stroke-width="1.1"/>
<text x="459.35" y="501.1" font-size="7.4" fill="#111" stroke="#111" stroke-width="0.17" text-anchor="middle">200</text>
<rect x="473.4" y="456.1" width="14.200000000000045" height="33.5" fill="#44ff00"/>
<line x1="480.5" y1="451.3" x2="480.5" y2="456.1" stroke="#111" stroke-width="1.2"/>
<line x1="478.8" y1="451.8" x2="482.2" y2="451.8" stroke="#111" stroke-width="1.2"/>
<line x1="480.5" y1="489.6" x2="480.5" y2="492.20000000000005" stroke="#111" stroke-width="1.1"/>
<text x="480.5" y="501.1" font-size="7.4" fill="#111" stroke="#111" stroke-width="0.17" text-anchor="middle">500</text>
<rect x="495.0" y="461.5" width="13.899999999999977" height="28.100000000000023" fill="#1c0094"/>
<line x1="501.95" y1="453.6" x2="501.95" y2="461.5" stroke="#111" stroke-width="1.2"/>
<line x1="500.25" y1="454.1" x2="503.65" y2="454.1" stroke="#111" stroke-width="1.2"/>
<line x1="501.95" y1="489.6" x2="501.95" y2="492.20000000000005" stroke="#111" stroke-width="1.1"/>
<text x="501.95" y="501.1" font-size="7.4" fill="#111" stroke="#111" stroke-width="0.17" text-anchor="middle">1000</text>
<text transform="translate(317.9,434.75) rotate(-90)" x="0" y="0" font-size="8.8" fill="#111" stroke="#111" stroke-width="0.25" text-anchor="middle" textLength="56.1" lengthAdjust="spacingAndGlyphs">Maximum &#916; LT</text>
<path d="M348.6,388.0 V386.0 H422.2 V388.0" fill="none" stroke="#111" stroke-width="1.1"/>
<path d="M426.9,388.4 V386.3 H499.9 V388.4" fill="none" stroke="#111" stroke-width="1.1"/>
<text x="385.3" y="382.9" font-size="7.4" fill="#111" stroke="#111" stroke-width="0.17" text-anchor="middle" textLength="45.5" lengthAdjust="spacingAndGlyphs">Thr (0.2 U/ml)</text>
<text x="463.3" y="364.2" font-size="7.4" fill="#111" stroke="#111" stroke-width="0.17" text-anchor="middle">DW</text>
<text x="463.2" y="373.4" font-size="7.4" fill="#111" stroke="#111" stroke-width="0.17" text-anchor="middle" textLength="57.1" lengthAdjust="spacingAndGlyphs">RGDW (150 µM)</text>
<text x="463.5" y="382.9" font-size="7.4" fill="#111" stroke="#111" stroke-width="0.17" text-anchor="middle" textLength="45.5" lengthAdjust="spacingAndGlyphs">Thr (0.2 U/ml)</text>
<path d="M438.1,444.0 V439.7 H462.9 V444.0" fill="none" stroke="#111" stroke-width="1.15"/>
<path d="M438.4,428.3 V423.4 H480.3 V428.3" fill="none" stroke="#111" stroke-width="1.15"/>
<path d="M438.4,415.8 V411.1 H504.6 V415.8" fill="none" stroke="#111" stroke-width="1.15"/>
<text x="433.6" y="436.8" font-size="7.6" fill="#111" stroke="#111" stroke-width="0.17" textLength="33.19999999999999" lengthAdjust="spacingAndGlyphs"><tspan font-style="italic">p</tspan> <tspan font-weight="bold">=</tspan> 0.030</text>
<text x="444.2" y="421.6" font-size="7.6" fill="#111" stroke="#111" stroke-width="0.17" textLength="32.19999999999999" lengthAdjust="spacingAndGlyphs"><tspan font-style="italic">p</tspan> <tspan font-weight="bold">=</tspan> 0.095</text>
<text x="455.0" y="408.8" font-size="7.6" fill="#111" stroke="#111" stroke-width="0.17" textLength="33.19999999999999" lengthAdjust="spacingAndGlyphs"><tspan font-style="italic">p</tspan> <tspan font-weight="bold">=</tspan> 0.087</text>
<line x1="345.8" y1="508.3" x2="509.6" y2="508.3" stroke="#111" stroke-width="1.2"/>
<text x="427.7" y="517.8" font-size="7.4" fill="#111" stroke="#111" stroke-width="0.17" text-anchor="middle" textLength="77" lengthAdjust="spacingAndGlyphs">T101 concentration µM</text>
<rect x="0.5" y="0.5" width="519" height="530" fill="none" stroke="#000" stroke-width="1.6"/>
</svg></body></html>
